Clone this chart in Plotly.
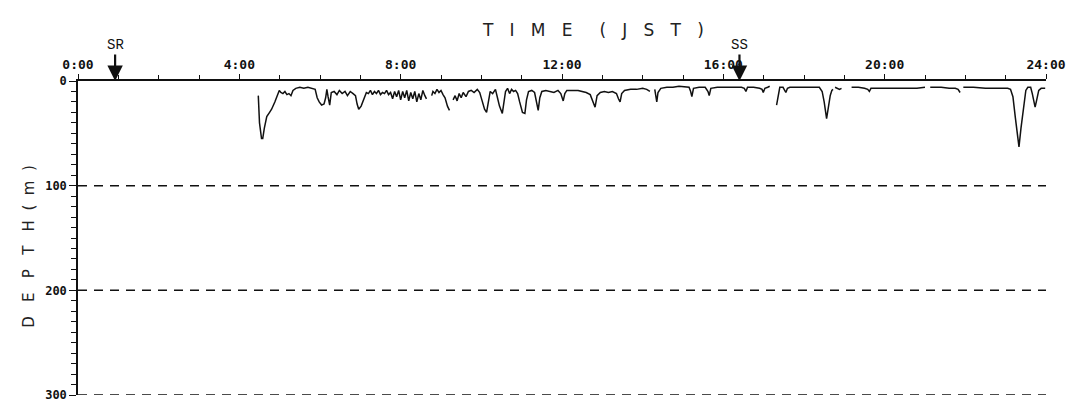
import plotly.graph_objects as go

# ---- data (time in hours JST, depth in m; None = gap in record) ----
time_h = [
    4.47, 4.50, 4.55, 4.58, 4.62, 4.68, 4.75, 4.80, 4.88, 4.95, 4.99, 5.03, 5.08, 5.13, 5.18, 5.23,
    5.28, 5.33, 5.40, 5.50, 5.60, 5.70, 5.80, 5.88, 5.93, 5.98, 6.04, 6.10, 6.14, 6.17, 6.20, 6.24,
    6.28, 6.35, 6.42, 6.48, 6.55, 6.62, 6.68, 6.75, 6.82, 6.88, 6.92, 6.96, 7.02, 7.08, 7.15,
    7.20, 7.25, 7.30, 7.35, 7.40, 7.45, 7.50, 7.55, 7.60, 7.65, 7.70, 7.75, 7.80, 7.85, 7.90, 7.95,
    8.00, 8.05, 8.10, 8.15, 8.20, 8.25, 8.30, 8.35, 8.40, 8.45, 8.50, 8.55, 8.60, 8.64, None,
    8.77, 8.80, 8.85, 8.90, 8.95, 9.00, 9.05, 9.10, 9.16, 9.21, None,
    9.30, 9.35, 9.40, 9.45, 9.50, 9.55, 9.62, 9.68, 9.75, 9.82, 9.90, 9.96, 10.02, 10.08, 10.13,
    10.18, 10.22, 10.28, 10.35, 10.40, 10.45, 10.52, 10.56, 10.60, 10.65, 10.70, 10.75, 10.80, 10.85,
    10.90, 10.95, 11.02, 11.08, 11.12, 11.17, 11.25, 11.32, 11.37, 11.41, 11.45, 11.50, 11.60, 11.70,
    11.80, 11.90, 11.97, 12.03, 12.07, 12.12, 12.25, 12.40, 12.50, 12.60, 12.70, 12.78, 12.82, 12.87,
    12.95, 13.05, 13.15, 13.25, 13.35, 13.40, 13.44, 13.48, 13.55, 13.70, 13.85, 14.00, 14.10, 14.18, None,
    14.30, 14.33, 14.35, 14.38, 14.45, 14.60, 14.75, 14.90, 15.05, 15.15, 15.19, 15.22, 15.26, 15.40,
    15.55, 15.62, 15.65, 15.69, 15.85, 16.05, 16.25, 16.45, 16.52, 16.56, 16.60, 16.75, 16.90, 16.96,
    16.99, 17.03, 17.10, 17.15, None,
    17.32, 17.36, 17.40, 17.48, 17.52, 17.55, 17.59, 17.65, 17.85, 18.05, 18.25, 18.38, 18.45, 18.50,
    18.56, 18.60, 18.65, 18.69, 18.72, None,
    18.77, 18.82, 18.88, 18.93, None,
    19.18, 19.35, 19.50, 19.58, 19.62, 19.66, 19.80, 20.00, 20.20, 20.40, 20.60, 20.80, 21.00, None,
    21.13, 21.40, 21.60, 21.75, 21.82, 21.87, None,
    21.95, 22.20, 22.50, 22.80, 23.05, 23.12, 23.18, 23.24, 23.30, 23.33, 23.38, 23.44, 23.50, 23.55,
    23.62, 23.66, 23.70, 23.73, 23.77, 23.82, 23.88, 23.98,
]
depth_m = [
    14, 40, 55, 55, 45, 34, 30, 27, 20, 14, 9, 11, 12, 10, 13, 12,
    14, 9, 7, 6, 7, 6, 7, 8, 16, 20, 23, 22, 16, 8, 15, 23,
    11, 10, 13, 9, 12, 10, 14, 10, 12, 14, 22, 27, 24, 18, 11,
    12, 9, 13, 10, 12, 9, 13, 11, 12, 9, 13, 11, 17, 10, 15, 9,
    18, 10, 16, 9, 19, 11, 17, 10, 20, 12, 18, 9, 14, 17, None,
    14, 10, 12, 8, 11, 9, 13, 16, 24, 28, None,
    18, 14, 19, 12, 16, 11, 15, 10, 9, 11, 8, 11, 19, 27, 30,
    18, 10, 12, 8, 16, 24, 31, 20, 10, 7, 12, 8, 10, 9,
    12, 20, 30, 31, 18, 10, 9, 11, 20, 28, 16, 10, 9, 10,
    11, 9, 12, 19, 12, 9, 9, 9, 10, 11, 13, 20, 25, 14,
    11, 10, 11, 10, 12, 17, 20, 12, 9, 8, 8, 7, 8, 10, None,
    8, 17, 20, 11, 7, 6, 6, 5, 6, 6, 10, 15, 7, 6,
    6, 10, 14, 7, 6, 6, 6, 6, 7, 10, 6, 6, 7, 8,
    11, 7, 6, 5, None,
    23, 12, 6, 6, 9, 11, 7, 6, 6, 6, 6, 6, 10, 20,
    36, 26, 14, 9, 8, None,
    6, 7, 8, 7, None,
    6, 6, 7, 8, 10, 7, 7, 7, 7, 7, 7, 7, 6, None,
    6, 6, 7, 7, 8, 11, None,
    6, 6, 7, 7, 7, 8, 15, 35, 58, 63, 45, 25, 9, 6,
    6, 12, 22, 25, 18, 9, 7, 7,
]

x_tick_vals = [0, 4, 8, 12, 16, 20, 24]
x_tick_text = ["0:00", "4:00", "8:00", "12:00", "16:00", "20:00", "24:00"]
y_tick_vals = [0, 100, 200, 300]
y_tick_text = ["0", "100", "200", "300"]
dashed_depths = [100, 200, 300]
sun_events = ["SR", "SS"]
sun_times_h = [0.92, 16.4]

NB = "\u00a0"
tick_font = dict(family="DejaVu Sans Mono", size=13, color="#111", weight="bold")
ytick_font = dict(family="DejaVu Sans Mono", size=12, color="#111", weight="bold")

fig = go.Figure()
fig.add_trace(go.Scatter(
    x=time_h, y=depth_m, mode="lines",
    line=dict(color="#111", width=1.5),
    connectgaps=False, hoverinfo="skip", showlegend=False,
))

for d in dashed_depths:
    fig.add_shape(type="line", xref="x", yref="y", x0=0, x1=24, y0=d, y1=d,
                  line=dict(color="#111", width=1.5, dash="9px,7px"), layer="below")

for name, t in zip(sun_events, sun_times_h):
    fig.add_annotation(x=t, y=0, xref="x", yref="y", text=name, showarrow=True,
                       ax=0, ay=-36, arrowhead=2, arrowsize=1.4, arrowwidth=2.2,
                       arrowcolor="#111", standoff=0,
                       font=dict(family="Liberation Mono", size=14, color="#111"))

fig.add_annotation(xref="paper", yref="paper", x=0.532, y=1.2, showarrow=False,
                   text=(NB * 3).join(list("TIME")) + NB * 5 + (NB * 3).join(list("(JST)")),
                   font=dict(family="DejaVu Sans", size=17, color="#222"))
fig.add_annotation(xref="paper", yref="paper", x=-0.062, y=0.475, showarrow=False,
                   textangle=-90,
                   text=(NB * 3).join(list("DEPTH")) + NB * 2 + (NB * 2).join(list("(m)")),
                   font=dict(family="DejaVu Sans", size=15, color="#222"))

fig.update_layout(
    width=1076, height=403,
    margin=dict(l=78, r=30, t=81, b=8, autoexpand=False),
    paper_bgcolor="white", plot_bgcolor="white",
    xaxis=dict(
        range=[0, 24], side="top", tickmode="array", tickvals=x_tick_vals, ticktext=x_tick_text,
        ticks="outside", ticklen=5, tickwidth=1, tickcolor="#111",
        minor=dict(dtick=1, ticks="outside", ticklen=4, tickwidth=1, tickcolor="#111"),
        showline=True, linecolor="#111", linewidth=2, showgrid=False, zeroline=False,
        tickfont=tick_font, fixedrange=True, ticklabeloverflow="allow",
    ),
    yaxis=dict(
        range=[300, 0], tickmode="array", tickvals=y_tick_vals, ticktext=y_tick_text,
        ticks="outside", ticklen=7, tickwidth=1.2, tickcolor="#111",
        minor=dict(dtick=10, ticks="outside", ticklen=5, tickwidth=1, tickcolor="#111"),
        showline=True, linecolor="#111", linewidth=1.5, showgrid=False, zeroline=False,
        tickfont=ytick_font, fixedrange=True, ticklabeloverflow="allow",
    ),
)

fig.write_html("out.html", config={"displayModeBar": False},
               post_script="document.body.style.margin='0';")
